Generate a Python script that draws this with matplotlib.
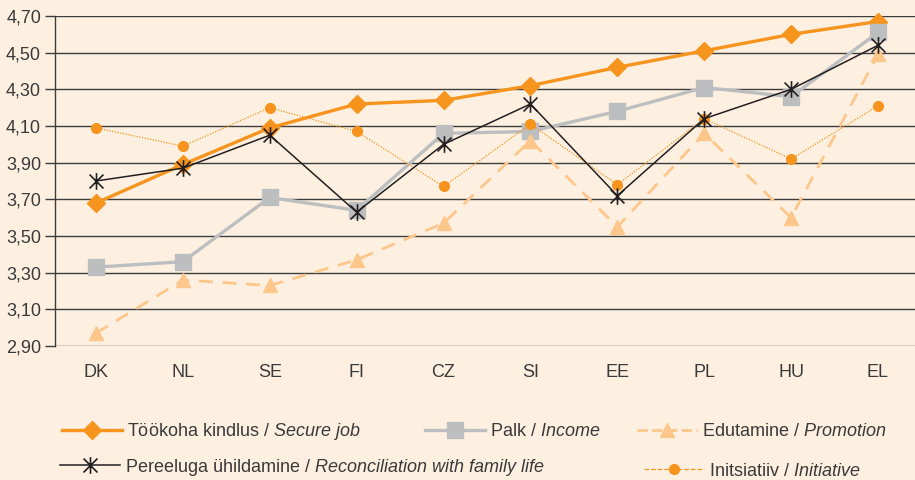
import matplotlib
matplotlib.use("Agg")
import matplotlib.pyplot as plt
from matplotlib.path import Path
from matplotlib.lines import Line2D

countries = ["DK", "NL", "SE", "FI", "CZ", "SI", "EE", "PL", "HU", "EL"]
secure_job = [3.68, 3.89, 4.09, 4.22, 4.24, 4.32, 4.42, 4.51, 4.60, 4.67]
income = [3.33, 3.36, 3.71, 3.64, 4.06, 4.07, 4.18, 4.31, 4.26, 4.61]
promotion = [2.97, 3.26, 3.23, 3.37, 3.57, 4.02, 3.55, 4.06, 3.60, 4.49]
initiative = [4.09, 3.99, 4.20, 4.07, 3.77, 4.11, 3.78, 4.14, 3.92, 4.21]
family = [3.80, 3.87, 4.05, 3.63, 4.00, 4.22, 3.72, 4.14, 4.30, 4.54]
yticks = [2.90, 3.10, 3.30, 3.50, 3.70, 3.90, 4.10, 4.30, 4.50, 4.70]

BG = "#fdf0e1"
ORANGE = "#f7941d"
GRAY = "#bcbec0"
LIGHT = "#fdc68a"
BLACK = "#231f20"

plt.rcParams["font.family"] = "Liberation Sans"
plt.rcParams["mathtext.fontset"] = "custom"
plt.rcParams["mathtext.rm"] = "Liberation Sans"
plt.rcParams["mathtext.it"] = "Liberation Sans:italic"

# Excel-style star marker: an x with a vertical bar
star = Path([(-1, -1), (1, 1), (-1, 1), (1, -1), (0, -1.2), (0, 1.2)],
            [Path.MOVETO, Path.LINETO] * 3)

fig = plt.figure(figsize=(9.15, 4.8), dpi=100)
fig.patch.set_facecolor(BG)
ax = fig.add_axes([55 / 915, 1 - 346 / 480, 1 - 55 / 915, 330 / 480])
ax.set_facecolor(BG)

x = range(len(countries))
series = [
    (secure_job, dict(color=ORANGE, lw=2.4, marker="D", ms=8.7, mec=ORANGE),
     "Töökoha kindlus / $\\it{Secure\\ job}$"),
    (income, dict(color=GRAY, lw=2.4, marker="s", ms=11, mec=GRAY),
     "Palk / $\\it{Income}$"),
    (promotion, dict(color=LIGHT, lw=2.0, ls=(0, (5, 3.5)), marker="^", ms=10.5, mec=LIGHT),
     "Edutamine / $\\it{Promotion}$"),
    (initiative, dict(color=ORANGE, lw=0.9, ls=(0, (1, 1.2)), marker="o", ms=7, mec=ORANGE),
     "Initsiatiiv / $\\it{Initiative}$"),
    (family, dict(color=BLACK, lw=1.1, marker=star, ms=12, mew=1.2, mfc="none", mec=BLACK),
     "Pereeluga ühildamine / $\\it{Reconciliation\\ with\\ family\\ life}$"),
]

handles = []
for vals, style, label in series:
    ln, = ax.plot(x, vals, clip_on=False, zorder=3, **style)
    handles.append((ln, label))

ax.set_xlim(-0.472, 9.426)
ax.set_ylim(2.90, 4.70)
ax.set_yticks(yticks)
ax.set_yticklabels([f"{v:.2f}".replace(".", ",") for v in yticks])
ax.set_xticks(list(x))
ax.set_xticklabels(countries)
ax.grid(axis="y", color="#3c3c3c", lw=1.0, zorder=1)
ax.set_axisbelow(True)
for side in ["top", "right", "bottom"]:
    ax.spines[side].set_visible(False)
ax.spines["left"].set_color("#3c3c3c")
ax.spines["left"].set_linewidth(1.0)
ax.tick_params(axis="y", length=7, width=1, color="#3c3c3c", pad=3,
               labelsize=13, labelcolor="#3a3a3a")
ax.tick_params(axis="x", length=0, pad=13, labelsize=13, labelcolor="#3a3a3a")

# legend entries, placed one by one as in the original layout
spots = [(62, 432), (425, 432), (637, 432), (644, 471), (60, 467)]
for (ln, label), (px, py) in zip(handles, spots):
    h = Line2D([], [], color=ln.get_color(), lw=ln.get_linewidth(),
               ls=ln.get_linestyle(), marker=ln.get_marker(),
               ms=ln.get_markersize(), mew=ln.get_markeredgewidth(),
               mfc=ln.get_markerfacecolor(), mec=ln.get_markeredgecolor())
    fig.legend([h], [label], loc="center left", bbox_to_anchor=(px / 915, 1 - py / 480),
               frameon=False, fontsize=13, handlelength=3.3, handletextpad=0.3,
               borderpad=0, borderaxespad=0, labelcolor="#3a3a3a")

fig.savefig("out.png", dpi=100, facecolor=BG)
